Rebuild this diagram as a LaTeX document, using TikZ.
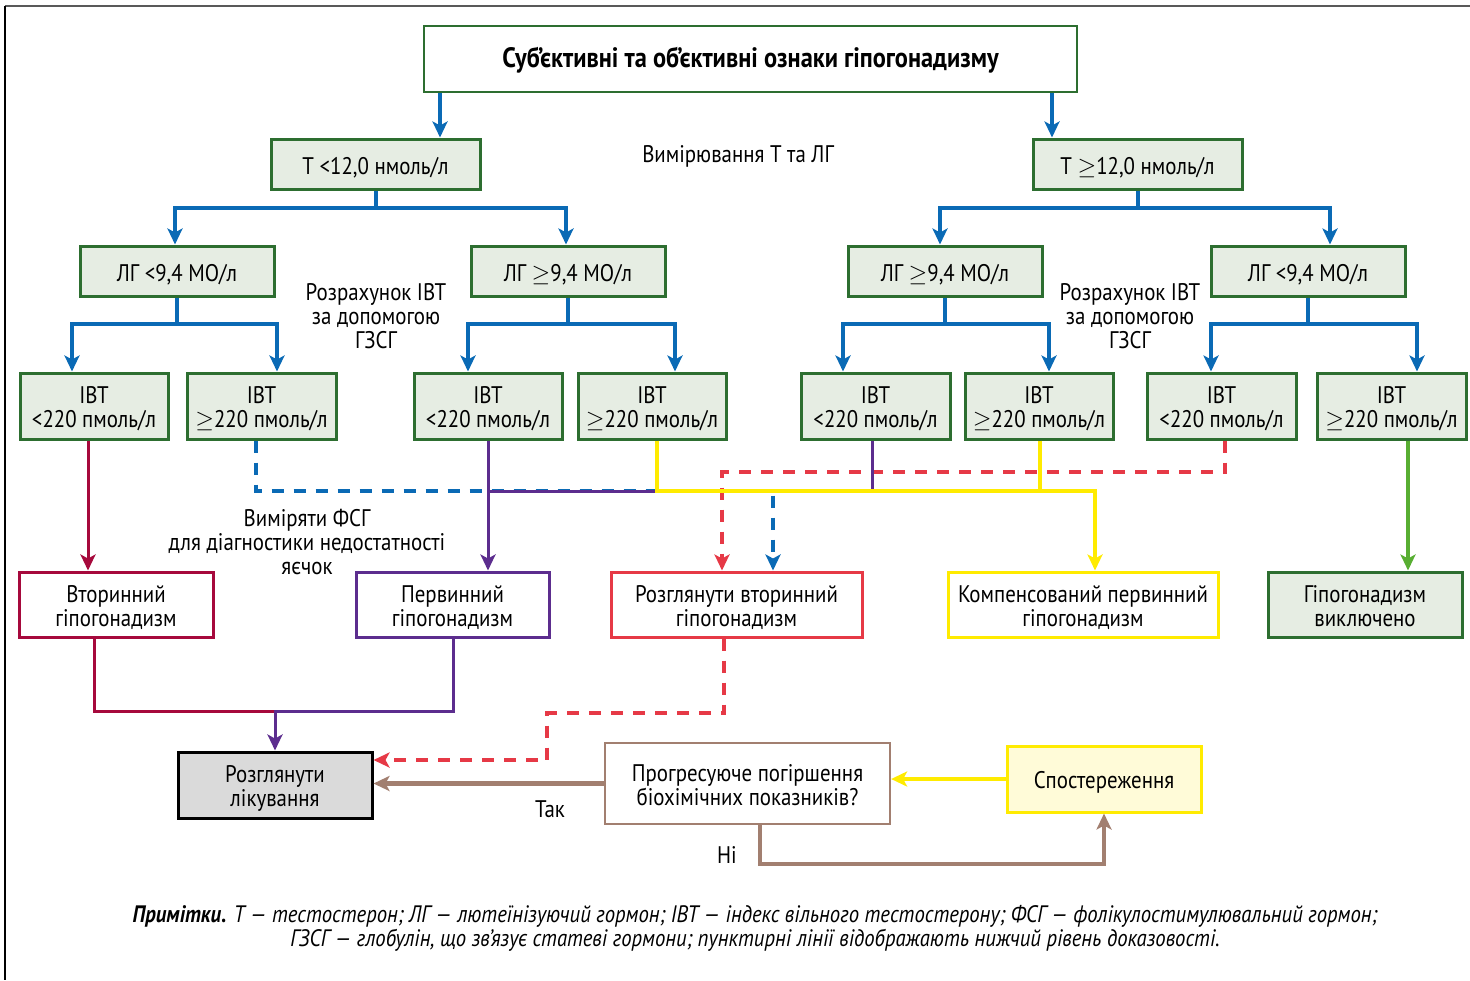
\documentclass[tikz,border=0pt]{standalone}
\usepackage{fontspec}
\setmainfont{PT Sans}[FakeStretch=0.87]
\usetikzlibrary{arrows.meta}
\definecolor{cblue}{HTML}{0A6AB5}
\definecolor{cgreen}{HTML}{2D6E30}
\definecolor{cfill}{HTML}{E6EDE3}
\definecolor{ccrim}{HTML}{A6093C}
\definecolor{cpurp}{HTML}{5C2D8E}
\definecolor{cred}{HTML}{E63946}
\definecolor{cyel}{HTML}{FFEB00}
\definecolor{cgreenb}{HTML}{58AE32}
\definecolor{cbrown}{HTML}{A27F70}
\definecolor{cgrayf}{HTML}{DADADA}
\definecolor{cyfill}{HTML}{FFFBD8}
% box from corner (x1,y1) to (x2,y2), in pixel units
\newcommand\bx[5]{\node[#1, minimum width={((#4)-(#2))*0.5pt}, minimum height={((#5)-(#3))*0.5pt}] at ({((#2)+(#4))/2},{((#3)+(#5))/2})}
\newcommand\geqs{$\geq$}
% two centred lines, first line lowered a little
\newcommand\tl[2]{\begin{tabular}{@{}c@{}}\rule{0pt}{13.4pt}#1\\#2\end{tabular}}
\tikzset{
  box/.style={inner sep=0pt, align=center, font=\fontsize{12}{12}\selectfont, text=black,
    execute at begin node={\rule{0pt}{11.8pt}}},
  two/.style={execute at begin node={}},
  gbox/.style={box, draw=cgreen, fill=cfill, line width=1.5pt},
  obox/.style={box, draw=#1, fill=white, line width=1.5pt},
  lbl/.style={align=center, inner sep=0pt, font=\fontsize{12}{12}\selectfont,
    execute at begin node={\rule{0pt}{11.5pt}}},
  tip/.style={-{Stealth[length=8pt,width=7.5pt,inset=2pt]}},
  blue line/.style={draw=cblue, line width=2pt},
  blue dash/.style={draw=cblue, line width=2pt, dash pattern=on 6pt off 5pt},
  red dash/.style={draw=cred, line width=1.8pt, dash pattern=on 6pt off 5pt},
  crim line/.style={draw=ccrim, line width=1.5pt},
  purp line/.style={draw=cpurp, line width=1.5pt},
  yel line/.style={draw=cyel, line width=2pt},
  grn line/.style={draw=cgreenb, line width=1.6pt},
  brn line/.style={draw=cbrown, line width=2.4pt},
}
\begin{document}
\begin{tikzpicture}[x=0.5pt,y=-0.5pt]
\useasboundingbox (0,0) rectangle (1470,980);
% frame
\draw[black!65, line width=1.2pt] (5,6) -- (1470,6);
\draw[black, line width=0.8pt] (5,6) -- (5,980);

% x columns and y levels
\foreach \n/\v in {X440/440,X1052/1052,X175/175,X566/566,X940/940,X1330/1330,
  X72/72,X277/277,X468/468,X675/675,X843/843,X1049/1049,X1211/1211,X1417/1417,
  X88/88,X256/256,X773/773,X872/872,X657/657,X1095/1095,X1040/1040,X1225/1225,
  X722/722,X1408/1408,X94/94,X453/453,X724/724,X547/547,X760/760}
  {\coordinate (\n) at (\v,0);}
\foreach \n/\v in {Y491/491,Y472/472,Y711/711,Y713/713,Y760/760,Y864/864}
  {\coordinate (\n) at (0,\v);}

% nodes
\bx{box, draw=cgreen, fill=white, line width=0.8pt, font=\fontsize{14}{15}\selectfont\bfseries}{424}{26}{1077}{92} (top) {Суб’єктивні та об’єктивні ознаки гіпогонадизму};
\bx{gbox}{271}{139}{480}{189} (t1) {Т <12,0 нмоль/л};
\bx{gbox}{1033}{139}{1242}{189} (t2) {Т \geqs12,0 нмоль/л};
\bx{gbox}{80}{246}{274}{296} (l1) {ЛГ <9,4 МО/л};
\bx{gbox}{471}{246}{665}{296} (l2) {ЛГ \geqs9,4 МО/л};
\bx{gbox}{848}{246}{1042}{296} (l3) {ЛГ \geqs9,4 МО/л};
\bx{gbox}{1211}{246}{1405}{296} (l4) {ЛГ <9,4 МО/л};
\bx{gbox,two}{20}{373}{168}{439} (i1) {\tl{ІВТ}{<220 пмоль/л}};
\bx{gbox,two}{187}{373}{336}{439} (i2) {\tl{ІВТ}{\geqs220 пмоль/л}};
\bx{gbox,two}{414}{373}{562}{439} (i3) {\tl{ІВТ}{<220 пмоль/л}};
\bx{gbox,two}{578}{373}{726}{439} (i4) {\tl{ІВТ}{\geqs220 пмоль/л}};
\bx{gbox,two}{801}{373}{950}{439} (i5) {\tl{ІВТ}{<220 пмоль/л}};
\bx{gbox,two}{965}{373}{1113}{439} (i6) {\tl{ІВТ}{\geqs220 пмоль/л}};
\bx{gbox,two}{1147}{373}{1296}{439} (i7) {\tl{ІВТ}{<220 пмоль/л}};
\bx{gbox,two}{1317}{373}{1466}{439} (i8) {\tl{ІВТ}{\geqs220 пмоль/л}};
\bx{obox=ccrim,two}{19}{572}{213}{637} (o1) {\tl{Вторинний}{гіпогонадизм}};
\bx{obox=cpurp,two}{356}{572}{549}{637} (o2) {\tl{Первинний}{гіпогонадизм}};
\bx{obox=cred,two}{611}{572}{862}{637} (o3) {\tl{Розглянути вторинний}{гіпогонадизм}};
\bx{obox=cyel,two}{948}{572}{1218}{637} (o4) {\tl{Компенсований первинний}{гіпогонадизм}};
\bx{gbox,two}{1268}{572}{1462}{637} (o5) {\tl{Гіпогонадизм}{виключено}};
\bx{box,two, draw=black, fill=cgrayf, line width=1.5pt}{178}{752}{372}{818} (tr) {\tl{Розглянути}{лікування}};
\bx{box,two, draw=cbrown, fill=white, line width=1.1pt}{605}{743}{890}{824} (pr) {\tl{Прогресуюче погіршення}{біохімічних показників?}};
\bx{box, draw=cyel, fill=cyfill, line width=1.5pt}{1007}{746}{1201}{812} (sp) {Спостереження};

% labels
\node[lbl] (lm) at (738,153) {Вимірювання Т та ЛГ};
\node[lbl] (lr1) at (376,316) {Розрахунок ІВТ\\за допомогою\\ГЗСГ};
\node[lbl] (lr2) at (1130,316) {Розрахунок ІВТ\\за допомогою\\ГЗСГ};
\node[lbl] (lf) at (307,542) {Виміряти ФСГ\\для діагностики недостатності\\яєчок};
\node[lbl] (ly) at (550,806) {Так};
\node[lbl] (ln) at (727,852) {Ні};
\node[lbl, font=\fontsize{11.9}{12}\selectfont\itshape] (note) at (755,928)
  {{\bfseries Примітки.} Т — тестостерон; ЛГ — лютеїнізуючий гормон; ІВТ — індекс вільного тестостерону; ФСГ — фолікулостимулювальний гормон;\\
   ГЗСГ — глобулін, що зв’язує статеві гормони; пунктирні лінії відображають нижчий рівень доказовості.};

% blue tree
\draw[blue line, tip] (top.south -| X440) -- (t1.north -| X440);
\draw[blue line, tip] (top.south -| X1052) -- (t2.north -| X1052);
\draw[blue line, tip] (t1.south) -- ++(0,17) -| (l1.north -| X175);
\draw[blue line, tip] (t1.south) -- ++(0,17) -| (l2.north -| X566);
\draw[blue line, tip] (t2.south) -- ++(0,17) -| (l3.north -| X940);
\draw[blue line, tip] (t2.south) -- ++(0,17) -| (l4.north -| X1330);
\draw[blue line, tip] (l1.south) -- ++(0,26) -| (i1.north -| X72);
\draw[blue line, tip] (l1.south) -- ++(0,26) -| (i2.north -| X277);
\draw[blue line, tip] (l2.south) -- ++(0,26) -| (i3.north -| X468);
\draw[blue line, tip] (l2.south) -- ++(0,26) -| (i4.north -| X675);
\draw[blue line, tip] (l3.south) -- ++(0,26) -| (i5.north -| X843);
\draw[blue line, tip] (l3.south) -- ++(0,26) -| (i6.north -| X1049);
\draw[blue line, tip] (l4.south) -- ++(0,26) -| (i7.north -| X1211);
\draw[blue line, tip] (l4.south) -- ++(0,26) -| (i8.north -| X1417);

% middle connectors
\draw[red dash, tip] (i7.south -| X1225) |- (X722 |- Y472) -- (o3.north -| X722);
\draw[blue dash, tip] (i2.south -| X256) |- (X773 |- Y491) -- (o3.north -| X773);
\draw[crim line, tip] (i1.south -| X88) -- (o1.north -| X88);
\draw[purp line] (i5.south -| X872) |- (i3.south |- Y491);
\draw[purp line, tip] (i3.south) -- (i3.south |- o2.north);
\draw[yel line, tip] (i4.south -| X657) |- (X1095 |- Y491) -- (o4.north -| X1095);
\draw[yel line] (i6.south -| X1040) -- (X1040 |- Y491);
\draw[grn line, tip] (i8.south -| X1408) -- (o5.north -| X1408);

% bottom connectors
\draw[crim line] (o1.south -| X94) |- (tr.north |- Y711);
\draw[purp line, tip] (o2.south -| X453) |- (tr.north |- Y711) -- (tr.north);
\draw[red dash, tip] (o3.south -| X724) |- (X547 |- Y713) |- (tr.east |- Y760);
\draw[brn line, tip] (pr.west) -- (pr.west -| tr.east);
\draw[yel line, tip] (sp.west) -- (sp.west -| pr.east);
\draw[brn line, tip] (pr.south -| X760) |- (sp.south |- Y864) -- (sp.south);
\end{tikzpicture}
\end{document}
